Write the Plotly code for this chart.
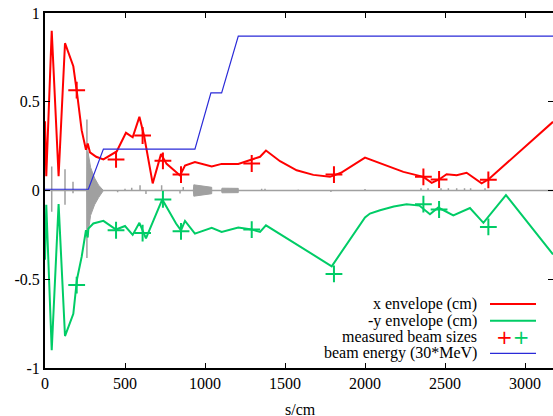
import plotly.graph_objects as go

# ---- data ----
# x envelope (cm)
xenv_s = [0, 8, 42, 85, 125, 177, 200, 229, 256, 267, 281, 320, 365, 448, 506, 548, 590, 619, 673,
          725, 760, 844, 875, 937, 1042, 1104, 1208, 1344, 1381, 1469, 1573, 1677, 1781, 1850, 2000,
          2031, 2135, 2240, 2365, 2417, 2463, 2510, 2573, 2635, 2729, 2771, 3175]
xenv_v = [0.39, 0.08, 0.90, 0.08, 0.83, 0.70, 0.55, 0.34, 0.23, 0.265, 0.215, 0.19, 0.175, 0.22, 0.325,
          0.30, 0.415, 0.31, 0.04, 0.205, 0.15, 0.085, 0.14, 0.16, 0.135, 0.15, 0.15, 0.19, 0.225,
          0.165, 0.114, 0.088, 0.077, 0.10, 0.185, 0.175, 0.137, 0.105, 0.077, 0.043, 0.062, 0.092,
          0.086, 0.10, 0.04, 0.062, 0.387]

# -y envelope (cm)
yenv_s = [0, 8, 42, 85, 125, 177, 200, 229, 256, 267, 271, 302, 365, 444, 500, 548, 590, 631, 733,
          819, 850, 875, 937, 1042, 1104, 1208, 1292, 1344, 1381, 1792, 2000, 2031, 2094, 2180, 2260,
          2340, 2406, 2458, 2552, 2656, 2740, 2881, 3175]
yenv_v = [-0.39, -0.08, -0.90, -0.077, -0.82, -0.695, -0.50, -0.374, -0.224, -0.265, -0.215, -0.186,
          -0.171, -0.22, -0.20, -0.25, -0.182, -0.27, -0.05, -0.186, -0.225, -0.171, -0.243, -0.21,
          -0.233, -0.209, -0.22, -0.233, -0.196, -0.427, -0.152, -0.13, -0.111, -0.09, -0.077,
          -0.085, -0.134, -0.096, -0.14, -0.099, -0.182, -0.026, -0.36]

# measured beam sizes
meas_s = [198, 444, 610, 737, 850, 1292, 1806, 2365, 2463, 2771]
meas_x = [0.565, 0.175, 0.31, 0.167, 0.09, 0.152, 0.09, 0.077, 0.062, 0.06]
meas_y = [-0.533, -0.224, -0.24, -0.05, -0.23, -0.22, -0.47, -0.077, -0.107, -0.205]

# beam energy (30*MeV)
energy_s = [0, 271, 365, 937, 1037, 1104, 1208, 3175]
energy_v = [0.007, 0.007, 0.233, 0.233, 0.55, 0.55, 0.87, 0.87]

# lattice elements (grey): thin elements (position, top, bottom)
elem_s = [42, 125, 175, 262, 454, 500, 542, 594, 631, 729, 844, 864, 1354, 1375, 1583, 1787, 2000,
          2350, 2394, 2475, 2521, 2573, 2622, 2660, 2750]
elem_top = [0.135, 0.12, 0.05, 0.40, 0.0, 0.01, 0.015, 0.03, 0.0, 0.03, 0.0, 0.02, 0.01, 0.01,
            0.005, 0.0, 0.008, 0.012, 0.012, 0.012, 0.012, 0.012, 0.012, 0.012, 0.012]
elem_bot = [-0.12, -0.08, -0.015, -0.38, -0.01, 0.0, 0.0, 0.0, -0.02, 0.0, -0.017, 0.0, 0.0, 0.0,
            0.0, -0.008, 0.0, 0.0, 0.0, 0.0, 0.0, 0.0, 0.0, 0.0, 0.0]
lattice_end = 3175

# RF structures (grey filled envelopes): s, +amp, -amp
rf1_s = [262, 268, 285, 310, 335, 365]
rf1_up = [0.0, 0.22, 0.13, 0.07, 0.03, 0.0]
rf1_dn = [0.0, -0.25, -0.14, -0.08, -0.04, 0.0]
rf2_s = [927, 930, 1042]
rf2_up = [0.0, 0.032, 0.018]
rf2_dn = [0.0, -0.032, -0.018]
rf3_s = [1104, 1106, 1208]
rf3_up = [0.0, 0.013, 0.012]
rf3_dn = [0.0, -0.013, -0.012]

RED = "#ff0000"
GREEN = "#00cc66"
BLUE = "#2a2ad8"
GREY = "#a0a0a0"
FONT = "Liberation Serif"

fig = go.Figure()

# grey lattice line
lx, ly = [0], [0]
for s, t, b in zip(elem_s, elem_top, elem_bot):
    lx += [s, s, s, s]
    ly += [0, t, b, 0]
lx.append(lattice_end)
ly.append(0)
fig.add_trace(go.Scatter(x=lx, y=ly, mode="lines", line=dict(color=GREY, width=1.5),
                         hoverinfo="skip", showlegend=False))

# RF structures as filled shapes
px, py = [], []
for ss, up, dn in [(rf1_s, rf1_up, rf1_dn), (rf2_s, rf2_up, rf2_dn), (rf3_s, rf3_up, rf3_dn)]:
    px += list(ss) + list(ss[::-1]) + [None]
    py += list(up) + list(dn[::-1]) + [None]
fig.add_trace(go.Scatter(x=px, y=py, mode="lines", fill="toself", fillcolor=GREY,
                         line=dict(color=GREY, width=1), hoverinfo="skip", showlegend=False))

fig.add_trace(go.Scatter(x=xenv_s, y=xenv_v, mode="lines", line=dict(color=RED, width=2),
                         name="x envelope (cm)", showlegend=False))
fig.add_trace(go.Scatter(x=yenv_s, y=yenv_v, mode="lines", line=dict(color=GREEN, width=2),
                         name="-y envelope (cm)", showlegend=False))
fig.add_trace(go.Scatter(x=meas_s, y=meas_x, mode="markers",
                         marker=dict(symbol="cross-thin", size=12, line=dict(color=RED, width=2)),
                         name="measured beam sizes", showlegend=False))
fig.add_trace(go.Scatter(x=meas_s, y=meas_y, mode="markers",
                         marker=dict(symbol="cross-thin", size=12, line=dict(color=GREEN, width=2)),
                         showlegend=False))
fig.add_trace(go.Scatter(x=energy_s, y=energy_v, mode="lines", line=dict(color=BLUE, width=1.2),
                         name="beam energy (30*MeV)", showlegend=False))
# helper (empty) trace to create the right-hand mirror tick axis
fig.add_trace(go.Scatter(x=[None], y=[None], yaxis="y2", showlegend=False, hoverinfo="skip"))

# ---- manual gnuplot-style key ----
L, R, T, B = 45, 553, 13, 368
def pxx(v):
    return (v - L) / (R - L)
def pyy(v):
    return (B - v) / (B - T)

key_labels = ["x envelope (cm)", "-y envelope (cm)", "measured beam sizes", "beam energy (30*MeV)"]
key_rows = [304, 320.7, 336.7, 353.3]
for lab, r in zip(key_labels, key_rows):
    fig.add_annotation(x=pxx(479), y=pyy(r), xref="paper", yref="paper", text=lab,
                       showarrow=False, xanchor="right", yanchor="middle",
                       font=dict(family=FONT, size=16, color="black"))
for col, r in [(RED, key_rows[0]), (GREEN, key_rows[1]), (BLUE, key_rows[3])]:
    fig.add_shape(type="line", xref="paper", yref="paper", x0=pxx(490), x1=pxx(536),
                  y0=pyy(r), y1=pyy(r), line=dict(color=col, width=2 if col != BLUE else 1.2))
fig.add_annotation(x=pxx(513), y=pyy(key_rows[2]), xref="paper", yref="paper",
                   text="<span style='color:%s'>+</span><span style='color:%s'>+</span>" % (RED, GREEN),
                   showarrow=False, xanchor="center", yanchor="middle",
                   font=dict(family="DejaVu Sans", size=20))

# x-axis title
fig.add_annotation(x=pxx(300), y=pyy(409), xref="paper", yref="paper", text="s/cm",
                   showarrow=False, xanchor="center", yanchor="middle",
                   font=dict(family=FONT, size=16, color="black"))

fig.update_layout(
    width=553, height=416,
    margin=dict(l=L, r=0, t=T, b=416 - B, autoexpand=False),
    paper_bgcolor="white", plot_bgcolor="white",
    font=dict(family=FONT, size=16, color="black"),
    showlegend=False,
    xaxis=dict(range=[0, 3175], tickvals=[0, 500, 1000, 1500, 2000, 2500, 3000],
               ticks="inside", ticklen=5, tickwidth=1, tickcolor="black",
               showline=True, linewidth=2, linecolor="black", mirror="ticks",
               showgrid=False, zeroline=False, automargin=False),
    yaxis=dict(range=[-1, 1], tickvals=[-1, -0.5, 0, 0.5, 1],
               ticktext=["-1", "-0.5", "0", "0.5", "1"],
               ticks="inside", ticklen=5, tickwidth=1, tickcolor="black",
               showline=True, linewidth=2, linecolor="black", mirror=False,
               showgrid=False, zeroline=False, automargin=False),
    yaxis2=dict(range=[-1, 1], overlaying="y", side="right", tickvals=[-0.5, 0, 0.5],
                ticks="inside", ticklen=5, tickwidth=1, tickcolor="black",
                showticklabels=False, showline=False, showgrid=False, zeroline=False,
                automargin=False),
)

fig.write_html("out.html", config={"displayModeBar": False},
               post_script="document.body.style.margin='0';")
